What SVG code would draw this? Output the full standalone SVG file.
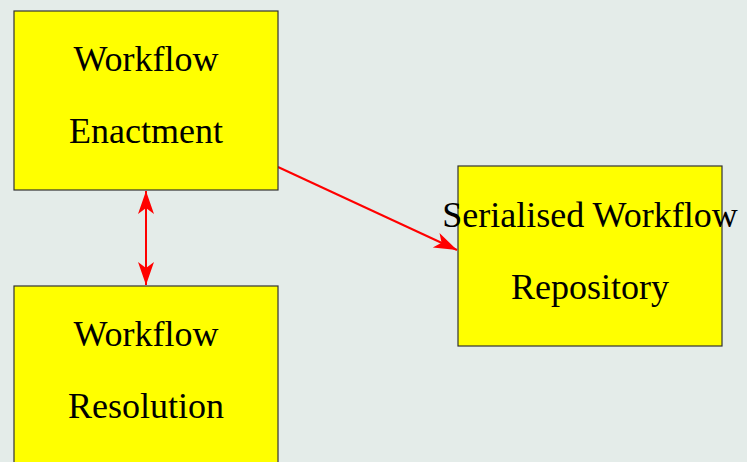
<svg xmlns="http://www.w3.org/2000/svg" width="747" height="462" viewBox="0 0 747 462">
<defs>
<style>
.node rect{fill:#ffff00;stroke:#333333;stroke-width:1.2}
.node text{font-family:"Liberation Serif","Times New Roman",serif;font-size:36px;fill:#000;text-anchor:middle}
.edge{stroke:#ff0000;stroke-width:2;fill:none}
</style>
<marker id="ah" viewBox="-24 -9 26 18" refX="0" refY="0" markerWidth="26" markerHeight="18" markerUnits="userSpaceOnUse" orient="auto-start-reverse">
<path d="M0,0 L-23,-8 L-17,0 L-23,8 Z" fill="#ff0000"/>
</marker>
</defs>
<rect width="747" height="462" fill="#e4ece9"/>
<g id="connectors">
<path class="edge" d="M146,191 L146,285" marker-start="url(#ah)" marker-end="url(#ah)"/>
<path class="edge" d="M278,167 L457,250" marker-end="url(#ah)"/>
</g>
<g id="workflow-enactment" class="node">
<rect x="14" y="11" width="264" height="179"/>
<text x="146" y="71">Workflow</text>
<text x="146" y="143">Enactment</text>
</g>
<g id="workflow-resolution" class="node">
<rect x="14" y="286" width="264" height="190"/>
<text x="146" y="346">Workflow</text>
<text x="146" y="418">Resolution</text>
</g>
<g id="serialised-workflow-repository" class="node">
<rect x="458" y="166" width="264" height="180"/>
<text x="590" y="227">Serialised Workflow</text>
<text x="590" y="299">Repository</text>
</g>
</svg>
